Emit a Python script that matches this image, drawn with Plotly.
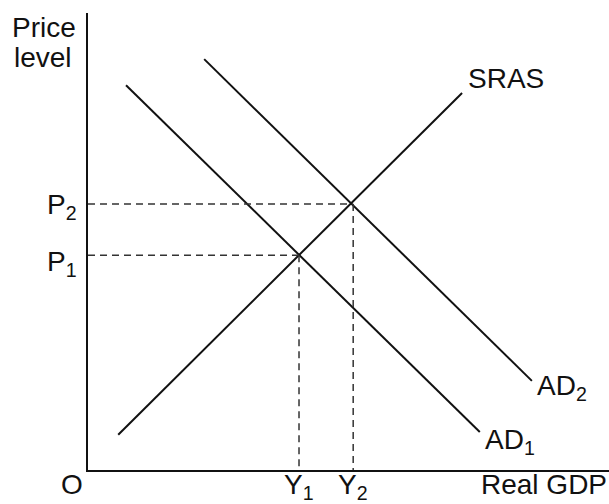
import plotly.graph_objects as go

# Economic-diagram values (x = Real GDP units, y = price level units, 0..100 scale)
sras_x = [5.8, 71.8]
sras_y = [7.7, 82.5]
ad1_x = [7.3, 75.2]
ad1_y = [84.2, 8.3]
ad2_x = [22.3, 85.2]
ad2_y = [89.9, 19.5]
eq_x = [40.5, 50.9]   # Y1, Y2
eq_y = [47.0, 58.2]   # P1, P2
eq_labels_y = ["Y<sub>1</sub>", "Y<sub>2</sub>"]
eq_labels_p = ["P<sub>1</sub>", "P<sub>2</sub>"]
curve_names = ["SRAS", "AD<sub>1</sub>", "AD<sub>2</sub>"]
axis_titles = ["Price", "level", "Real GDP", "O"]

FONT = "Liberation Sans, Arial, sans-serif"
FS = 28

fig = go.Figure()
line_style = dict(color="#111111", width=2)
fig.add_trace(go.Scatter(x=sras_x, y=sras_y, mode="lines", line=line_style, hoverinfo="skip"))
fig.add_trace(go.Scatter(x=ad1_x, y=ad1_y, mode="lines", line=line_style, hoverinfo="skip"))
fig.add_trace(go.Scatter(x=ad2_x, y=ad2_y, mode="lines", line=line_style, hoverinfo="skip"))

dash_style = dict(color="#333333", width=1.5, dash="7px,5px")
for xv, yv in zip(eq_x, eq_y):
    fig.add_trace(go.Scatter(x=[0, xv], y=[yv, yv], mode="lines", line=dash_style, hoverinfo="skip"))
    fig.add_trace(go.Scatter(x=[xv, xv], y=[yv, 0], mode="lines", line=dash_style, hoverinfo="skip"))

XR = 100.0
YR = 100.0
ann = []
def add(text, x, y, xa="left", ya="top"):
    # positions given in data units, placed via paper refs so they may sit outside the axes
    ann.append(dict(text=text, x=x / XR, y=y / YR, xref="paper", yref="paper", showarrow=False,
                    xanchor=xa, yanchor=ya, font=dict(family=FONT, size=FS, color="#111111")))

add(axis_titles[0], -14.9, 100.66)
add(axis_titles[1], -14.6, 94.1)
add(eq_labels_p[1], -1.7, eq_y[1] + 3.7, "right")
add(eq_labels_p[0], -1.7, eq_y[0] + 2.45, "right")
for lab, xv in zip(eq_labels_y, eq_x):
    add(lab, xv, 0.6, "center")
add(axis_titles[3], -3.1, 0.6, "center")
add(axis_titles[2], 100, 0.6, "right")
add(curve_names[0], sras_x[1] + 0.7, sras_y[1] + 7.0)
add(curve_names[1], ad1_x[1] + 0.6, ad1_y[1] + 2.2)
add(curve_names[2], ad2_x[1] + 0.6, ad2_y[1] + 2.8)

fig.update_layout(
    width=609, height=504,
    margin=dict(l=88, r=0, t=13, b=34),
    plot_bgcolor="white", paper_bgcolor="white",
    showlegend=False,
    annotations=ann,
    xaxis=dict(range=[0, XR], showgrid=False, zeroline=False, showticklabels=False,
               ticks="", showline=True, linecolor="#111111", linewidth=2, fixedrange=True),
    yaxis=dict(range=[0, YR], showgrid=False, zeroline=False, showticklabels=False,
               ticks="", showline=True, linecolor="#111111", linewidth=2, fixedrange=True),
)

fig.write_html("out.html", config={"displayModeBar": False},
               post_script="document.body.style.margin='0';document.body.style.overflow='hidden';")
